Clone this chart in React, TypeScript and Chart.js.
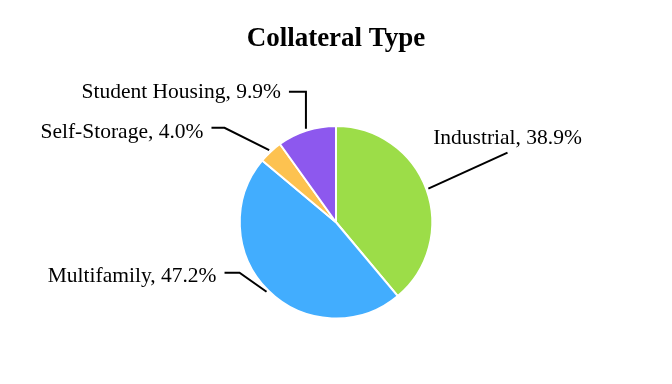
import React, { useEffect, useRef } from "react";
import { Chart, registerables } from "chart.js";

Chart.register(...registerables);

const categories: string[] = ["Industrial", "Multifamily", "Self-Storage", "Student Housing"];
const shares: number[] = [38.9, 47.2, 4.0, 9.9];
const colors: string[] = ["#9CDD48", "#42ADFE", "#FDC250", "#8D58EE"];
const titleText = "Collateral Type";

// leader-line styling per label (direction in degrees, segment lengths, text side and offset)
const labelStyles = [
  { angle: -24.5, len: 87, hLen: 0, side: 1, place: "above", dy: -9 },
  { angle: -144.9, len: 33, hLen: 15, side: -1, place: "side", dy: 4 },
  { angle: -153.4, len: 50, hLen: 13, side: -1, place: "side", dy: 5 },
  { angle: -90, len: 37, hLen: 17, side: -1, place: "side", dy: 1 },
];

const FONT = "'Liberation Serif', 'Times New Roman', serif";

const leaderLabels = {
  id: "leaderLabels",
  afterDraw(chart: any) {
    const ctx = chart.ctx;
    const meta = chart.getDatasetMeta(0);
    ctx.save();
    ctx.font = `21.5px ${FONT}`;
    ctx.fillStyle = "#000";
    ctx.strokeStyle = "#000";
    ctx.lineWidth = 2;
    meta.data.forEach((arc: any, i: number) => {
      const p = arc.getProps(["x", "y", "startAngle", "endAngle", "outerRadius"], true);
      const mid = (p.startAngle + p.endAngle) / 2;
      const r0 = p.outerRadius + 2;
      const sx = p.x + Math.cos(mid) * r0;
      const sy = p.y + Math.sin(mid) * r0;
      const st = labelStyles[i];
      const a = (st.angle * Math.PI) / 180;
      const ex = sx + Math.cos(a) * st.len;
      const ey = sy + Math.sin(a) * st.len;
      const dir = st.side;
      const hx = ex + dir * st.hLen;
      ctx.beginPath();
      ctx.moveTo(sx, sy);
      ctx.lineTo(ex, ey);
      if (st.hLen > 0) ctx.lineTo(hx, ey);
      ctx.stroke();
      const text = `${categories[i]}, ${shares[i].toFixed(1)}%`;
      if (st.place === "above") {
        ctx.textAlign = "center";
        ctx.textBaseline = "alphabetic";
        ctx.fillText(text, ex, ey + st.dy);
      } else {
        ctx.textAlign = dir < 0 ? "right" : "left";
        ctx.textBaseline = "middle";
        ctx.fillText(text, hx + dir * 8, ey + st.dy);
      }
    });
    ctx.restore();
  },
};

export default function App() {
  const ref = useRef<HTMLCanvasElement | null>(null);
  useEffect(() => {
    if (!ref.current) return;
    const chart = new Chart(ref.current, {
      type: "pie",
      data: {
        labels: categories,
        datasets: [
          {
            data: shares,
            backgroundColor: colors,
            borderColor: "#ffffff",
            borderWidth: 2,
          },
        ],
      },
      options: {
        responsive: false,
        animation: false,
        layout: { padding: { top: 0, bottom: 64.5, left: 0, right: 0 } },
        plugins: {
          legend: { display: false },
          tooltip: { enabled: false },
          title: {
            display: true,
            text: titleText,
            color: "#000",
            font: { family: FONT, size: 27, weight: "bold" },
            padding: { top: 22.7, bottom: 69.9 },
          },
        },
      },
      plugins: [leaderLabels],
    });
    return () => chart.destroy();
  }, []);
  return (
    <div style={{ position: "absolute", left: 0, top: 0, width: 672, height: 384, background: "#fff" }}>
      <canvas ref={ref} width={672} height={384} style={{ display: "block" }} />
    </div>
  );
}
